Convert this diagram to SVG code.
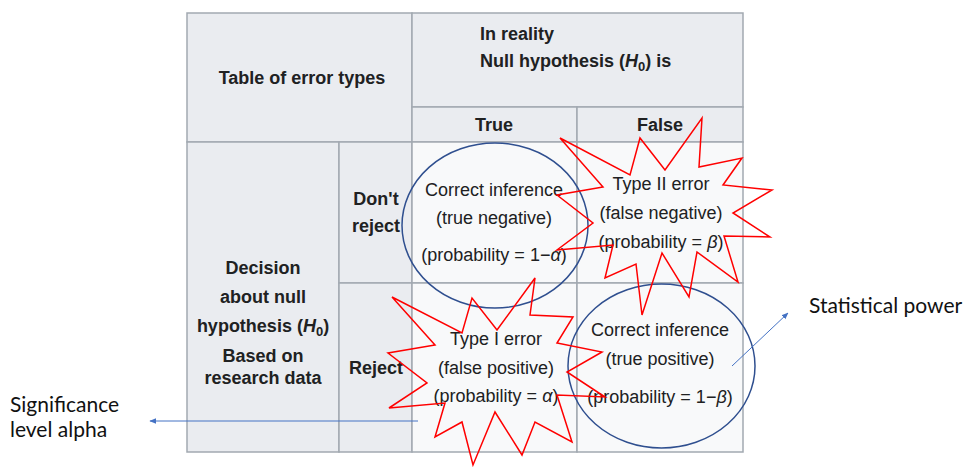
<svg xmlns="http://www.w3.org/2000/svg" width="966" height="468" viewBox="0 0 966 468">
<defs>
<style>
.hd{fill:#eaecf0;stroke:#a2a9b1;stroke-width:1.5}
.bd{fill:#f8f9fa;stroke:#a2a9b1;stroke-width:1.5}
.b{font-family:"Liberation Sans",Arial,sans-serif;font-weight:bold;font-size:18px;fill:#202122}
.r{font-family:"Liberation Sans",Arial,sans-serif;font-size:18px;fill:#202122;text-anchor:middle}
.c{text-anchor:middle}
.lab{font-family:Lato,"Open Sans",sans-serif;font-size:21px;fill:#111}
.ell{fill:none;stroke:#2f4f8f;stroke-width:1.5}
.star{fill:none;stroke:#ff0000;stroke-width:1.5;stroke-linejoin:miter}
.arr{stroke:#4472c4;stroke-width:1;fill:none}
</style>
<marker id="ah" viewBox="0 0 10 10" refX="9" refY="5" markerWidth="7" markerHeight="7" orient="auto" markerUnits="userSpaceOnUse">
<path d="M0,1 L10,5 L0,9 Z" fill="#4472c4"/>
</marker>
</defs>
<rect width="966" height="468" fill="#ffffff"/>

<g id="table">
<rect class="hd" x="187" y="13" width="225" height="129"/>
<rect class="hd" x="412" y="13" width="331" height="94"/>
<rect class="hd" x="412" y="107" width="165" height="35"/>
<rect class="hd" x="577" y="107" width="166" height="35"/>
<rect class="hd" x="187" y="142" width="152" height="310"/>
<rect class="hd" x="339" y="142" width="73" height="141"/>
<rect class="hd" x="339" y="283" width="73" height="169"/>
<rect class="bd" x="412" y="142" width="165" height="141"/>
<rect class="bd" x="577" y="142" width="166" height="141"/>
<rect class="bd" x="412" y="283" width="165" height="169"/>
<rect class="bd" x="577" y="283" width="166" height="169"/>
</g>

<g id="headers">
<text class="b c" x="302" y="84">Table of error types</text>
<text class="b" x="480" y="40">In reality</text>
<text class="b" x="480" y="67">Null hypothesis (<tspan font-style="italic">H</tspan><tspan font-size="13" dy="4">0</tspan><tspan dy="-4">) is</tspan></text>
<text class="b c" x="494" y="131">True</text>
<text class="b c" x="660" y="131">False</text>
<text class="b c" x="376" y="205">Don't</text>
<text class="b c" x="376" y="232">reject</text>
<text class="b c" x="376" y="374">Reject</text>
<text class="b c" x="263" y="274">Decision</text>
<text class="b c" x="263" y="303">about null</text>
<text class="b c" x="263" y="332">hypothesis (<tspan font-style="italic">H</tspan><tspan font-size="13" dy="4">0</tspan><tspan dy="-4">)</tspan></text>
<text class="b c" x="263" y="362" fill="#000">Based on</text>
<text class="b c" x="263" y="384" fill="#000">research data</text>
</g>

<g id="cell-tn">
<text class="r" x="494" y="196">Correct inference</text>
<text class="r" x="494" y="224">(true negative)</text>
<text class="r" x="494" y="261">(probability = 1−<tspan font-style="italic">α</tspan>)</text>
</g>
<g id="cell-fn">
<text class="r" x="661" y="190">Type II error</text>
<text class="r" x="661" y="219">(false negative)</text>
<text class="r" x="661" y="248">(probability = <tspan font-style="italic">β</tspan>)</text>
</g>
<g id="cell-fp">
<text class="r" x="496" y="345">Type I error</text>
<text class="r" x="496" y="374">(false positive)</text>
<text class="r" x="496" y="402">(probability = <tspan font-style="italic">α</tspan>)</text>
</g>
<g id="cell-tp">
<text class="r" x="660" y="336">Correct inference</text>
<text class="r" x="660" y="365">(true positive)</text>
<text class="r" x="660" y="403">(probability = 1−<tspan font-style="italic">β</tspan>)</text>
</g>

<g id="ellipse-tn"><ellipse class="ell" cx="495" cy="225.5" rx="93" ry="82.5"/></g>
<g id="ellipse-tp"><ellipse class="ell" cx="661.5" cy="366" rx="93.5" ry="82"/></g>

<g id="star-fn">
<polygon class="star" points="702,118 699,167 742,158 723,185 772,190 733,213 770,237 724,236 738,282 697,252 689,297 662,253 642,315 636,264 605,278 613,245 557,250 593,223 557,195 603,187 560,138 630,175 640,138 665,170"/>
</g>
<g id="star-fp">
<polygon class="star" points="535,278 530,315 573,317 557,343 602,352 567,372 605,397 557,395 572,442 535,422 522,455 495,412 473,465 462,422 435,437 445,403 389,408 427,383 388,353 435,345 392,297 462,333 472,298 497,330"/>
</g>

<g id="label-power"><text class="lab" x="809" y="313">Statistical power</text></g>
<g id="label-alpha">
<text class="lab" x="10" y="412">Significance</text>
<text class="lab" x="10" y="437">level alpha</text>
</g>

<g id="connectors">
<line class="arr" x1="732" y1="366" x2="788" y2="313" marker-end="url(#ah)"/>
<line class="arr" x1="418" y1="421" x2="150" y2="421" marker-end="url(#ah)"/>
</g>
</svg>
